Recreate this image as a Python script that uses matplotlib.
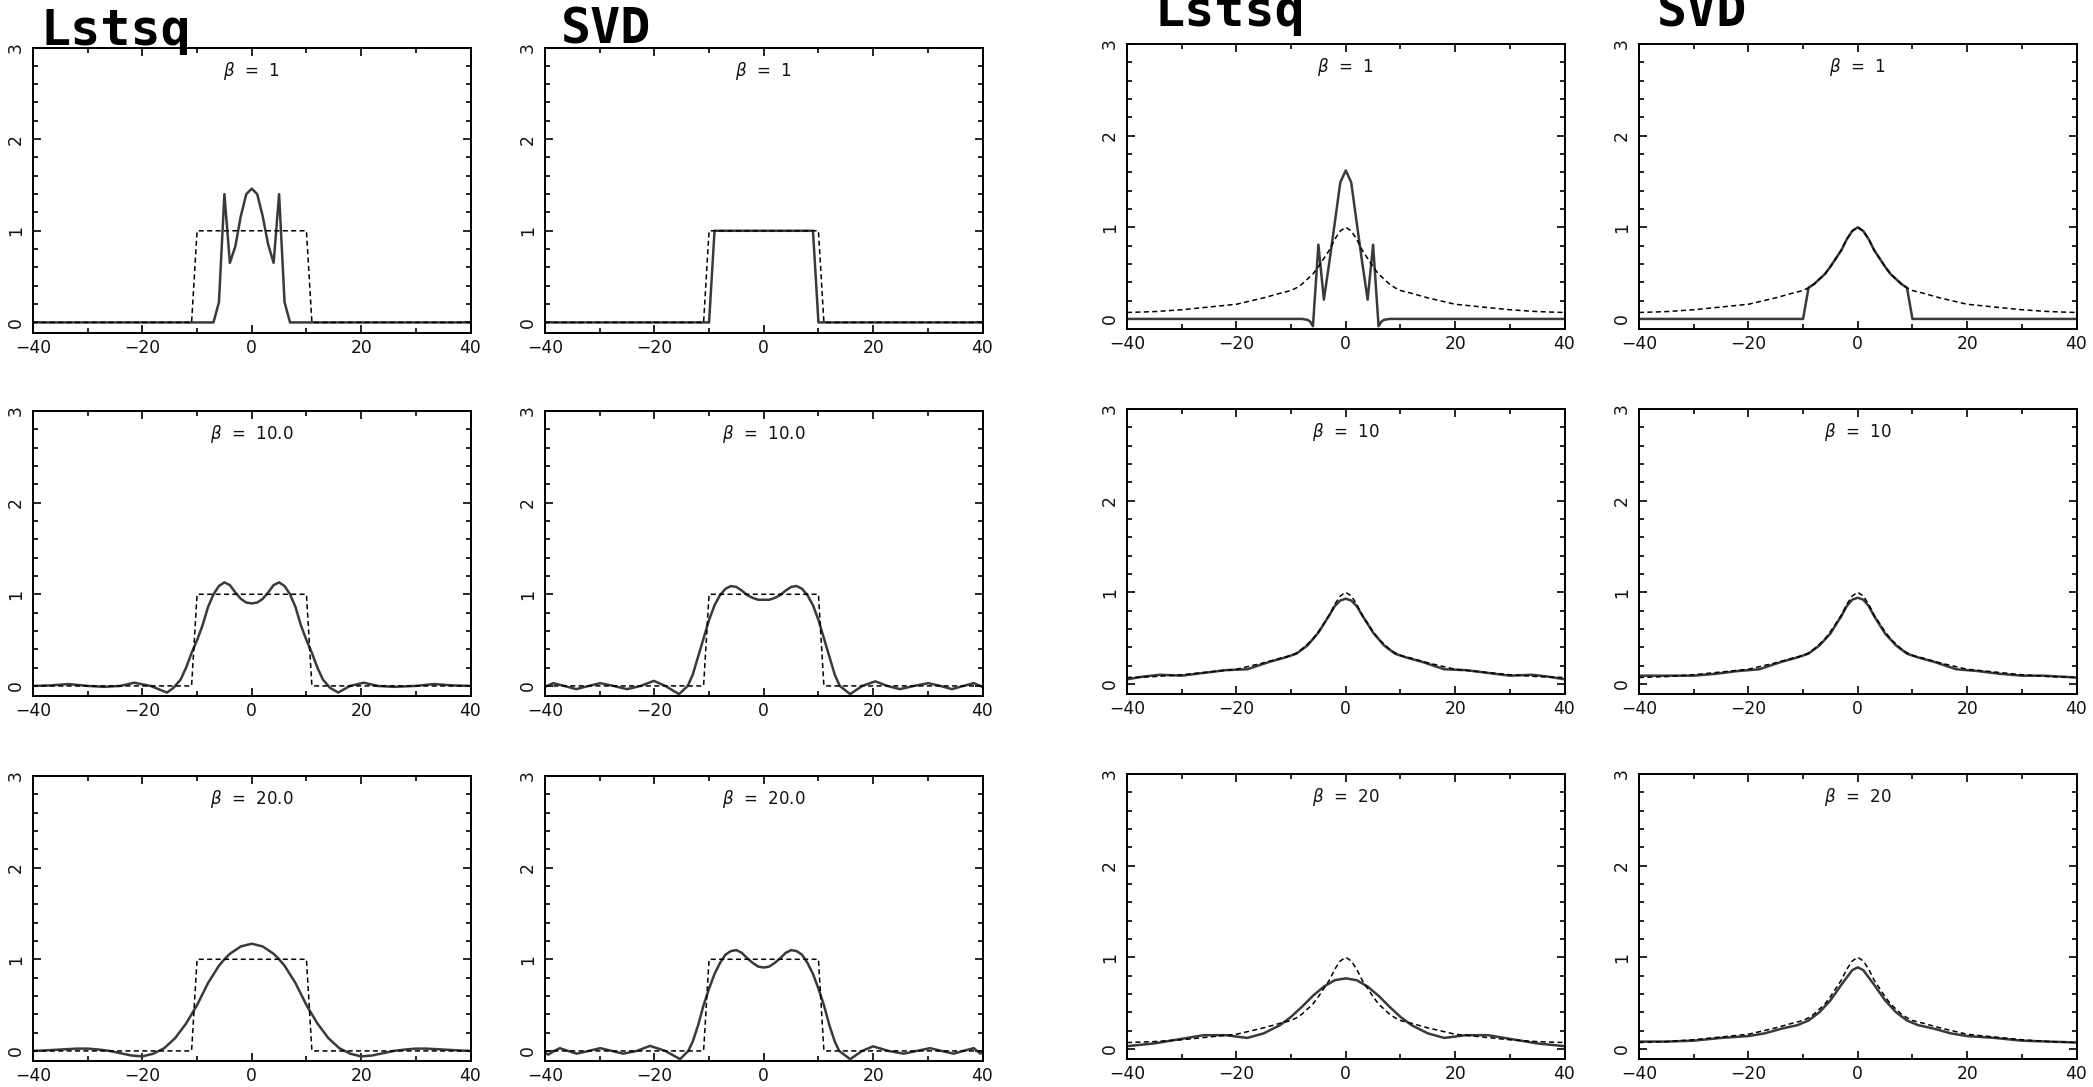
import matplotlib
matplotlib.use("Agg")
import matplotlib.pyplot as plt
from matplotlib.ticker import MultipleLocator

# ---- true spectra ----------------------------------------------------------
box_x = [-40, -11, -10, 10, 11, 40]
box_y = [0, 0, 1, 1, 0, 0]

lor_x = [-40, -35, -30, -25, -20, -15, -12, -10, -9, -8, -6, -5, -4, -3, -2, -1, 0,
         1, 2, 3, 4, 5, 6, 8, 9, 10, 12, 15, 20, 25, 30, 35, 40]
lor_y = [0.07, 0.08, 0.10, 0.13, 0.16, 0.23, 0.28, 0.31, 0.34, 0.38, 0.49, 0.57, 0.66, 0.75, 0.87, 0.96, 1.00,
         0.96, 0.87, 0.75, 0.66, 0.57, 0.49, 0.38, 0.34, 0.31, 0.28, 0.23, 0.16, 0.13, 0.10, 0.08, 0.07]

# ---- box input: reconstructions ---------------------------------------------
lsq_b1_x = [-40, -7, -6, -5, -4, -3, -2, -1, 0, 1, 2, 3, 4, 5, 6, 7, 40]
lsq_b1_y = [0, 0, 0.22, 1.40, 0.65, 0.83, 1.16, 1.40, 1.46, 1.40, 1.16, 0.85, 0.65, 1.40, 0.22, 0, 0]

svd_b1_x = [-40, -10, -9, 9, 10, 40]
svd_b1_y = [0, 0, 1, 1, 0, 0]

lsq_b10_x = [-40, -37, -33.5, -30, -27, -24, -21.5, -18.5, -15.5, -14.3, -13, -12, -11, -10, -9, -8, -7, -6, -5,
             -4, -3, -2, -1, 0, 1, 2, 3, 4, 5, 6, 7, 8, 9, 10, 11, 12, 13, 14.3, 15.8, 18, 20.5, 23, 26, 30,
             33.3, 37, 40]
lsq_b10_y = [0.0, 0.005, 0.02, 0.0, -0.01, 0.0, 0.035, 0.0, -0.073, -0.02, 0.07, 0.20, 0.36, 0.50, 0.66, 0.86,
             1.00, 1.09, 1.13, 1.10, 1.02, 0.95, 0.91, 0.90, 0.91, 0.95, 1.02, 1.10, 1.13, 1.09, 1.00, 0.86,
             0.66, 0.50, 0.36, 0.20, 0.07, -0.02, -0.072, 0.0, 0.035, 0.0, -0.01, 0.0, 0.02, 0.005, 0.0]

lsq_b20_x = [-40, -38, -35, -32, -30, -28, -26, -24, -22, -20, -18, -17, -16, -14, -12, -10, -8, -6, -5, -4,
             -2, 0, 2, 4, 5, 6, 8, 10, 12, 14, 16, 17, 18, 20, 22, 24, 26, 28, 30, 32, 35, 38, 40]
lsq_b20_y = [0.0, 0.005, 0.015, 0.025, 0.025, 0.015, 0.0, -0.025, -0.05, -0.06, -0.03, 0.0, 0.03, 0.14,
             0.30, 0.50, 0.74, 0.93, 1.00, 1.06, 1.14, 1.17, 1.14, 1.06, 1.00, 0.93, 0.74, 0.50, 0.30, 0.14,
             0.03, 0.0, -0.03, -0.06, -0.05, -0.025, 0.0, 0.015, 0.025, 0.025, 0.015, 0.005, 0.0]

svd_b10_x = [-40, -38.5, -36.5, -34.3, -32, -29.9, -27.5, -25, -22.5, -20.1, -18, -15.5, -13.9, -13, -12, -11,
             -10, -9, -8, -7, -6, -5, -4, -3, -2, -1, 0, 1, 2, 3, 4, 5, 6, 7, 8, 9, 10, 11, 12, 13, 13.9, 15.8,
             18, 20.4, 22.6, 24.9, 27.5, 30.1, 32.3, 34.4, 36.5, 38.4, 40]
svd_b10_y = [-0.01, 0.03, 0.0, -0.035, 0.0, 0.03, 0.0, -0.035, 0.0, 0.055, 0.0, -0.09, 0.0, 0.12, 0.32, 0.52,
             0.72, 0.88, 0.99, 1.06, 1.09, 1.08, 1.04, 0.99, 0.96, 0.94, 0.94, 0.94, 0.96, 0.99, 1.04, 1.08,
             1.09, 1.06, 0.99, 0.88, 0.72, 0.52, 0.32, 0.12, 0.0, -0.09, 0.0, 0.05, 0.0, -0.035, 0.0, 0.03,
             0.0, -0.035, 0.0, 0.03, -0.01]

svd_b20_x = [-40, -39.4, -38.3, -37.3, -35.8, -34.2, -32, -29.9, -27.8, -25.7, -23.2, -20.8, -18, -15.3, -13.8,
             -13, -12, -11, -10, -9, -8, -7, -6, -5, -4, -3, -2, -1, 0, 1, 2, 3, 4, 5, 6, 7, 8, 9, 10, 11, 12,
             13, 13.8, 15.8, 18, 20.0, 22.8, 25.6, 28, 30.4, 32.5, 34.7, 36.5, 38.4, 39.6, 40]
svd_b20_y = [-0.02, -0.04, 0.0, 0.03, 0.0, -0.03, 0.0, 0.03, 0.0, -0.03, 0.0, 0.055, 0.0, -0.09, 0.0, 0.10,
             0.28, 0.50, 0.68, 0.84, 0.96, 1.05, 1.09, 1.10, 1.07, 1.01, 0.96, 0.92, 0.91, 0.92, 0.96, 1.01,
             1.07, 1.10, 1.09, 1.05, 0.96, 0.84, 0.68, 0.50, 0.28, 0.10, 0.0, -0.09, 0.0, 0.05, 0.0, -0.03,
             0.0, 0.03, 0.0, -0.03, 0.0, 0.03, -0.03, 0.0]

# ---- peaked input: reconstructions ------------------------------------------
lsq_r1_x = [-40, -8, -7, -6.5, -6, -5, -4, -3, -2, -1, 0, 1, 2, 3, 4, 5, 6, 6.5, 7, 8, 40]
lsq_r1_y = [0, 0, -0.01, -0.03, -0.08, 0.81, 0.21, 0.62, 1.05, 1.49, 1.62, 1.49, 1.05, 0.62, 0.21, 0.81,
            -0.08, -0.03, -0.01, 0, 0]

svd_r1_x = [-40, -10, -9, -8, -6, -5, -4, -3, -2, -1, 0, 1, 2, 3, 4, 5, 6, 8, 9, 10, 40]
svd_r1_y = [0, 0, 0.34, 0.38, 0.49, 0.57, 0.66, 0.75, 0.87, 0.96, 1.00, 0.96, 0.87, 0.75, 0.66, 0.57, 0.49,
            0.38, 0.34, 0, 0]

r10_x = [-40, -37, -34, -30, -26, -22, -18, -14, -11, -9, -7, -5, -3, -2, -1, 0,
         1, 2, 3, 5, 7, 9, 11, 14, 18, 22, 26, 30, 34, 37, 40]
lsq_r10_y = [0.05, 0.08, 0.10, 0.09, 0.12, 0.15, 0.16, 0.24, 0.29, 0.33, 0.42, 0.56, 0.75, 0.85, 0.91, 0.93,
             0.91, 0.85, 0.75, 0.56, 0.42, 0.33, 0.29, 0.24, 0.16, 0.15, 0.12, 0.09, 0.10, 0.08, 0.05]
svd_r10_y = [0.09, 0.09, 0.09, 0.09, 0.11, 0.14, 0.16, 0.24, 0.29, 0.33, 0.42, 0.55, 0.74, 0.85, 0.92, 0.94,
             0.92, 0.85, 0.74, 0.55, 0.42, 0.33, 0.29, 0.24, 0.16, 0.14, 0.11, 0.09, 0.09, 0.08, 0.07]

lsq_r20_x = [-40, -35, -30, -26, -22, -18, -15, -12, -10, -8, -6, -4, -2, 0,
             2, 4, 6, 8, 10, 12, 15, 18, 22, 26, 30, 35, 40]
lsq_r20_y = [0.03, 0.06, 0.11, 0.15, 0.15, 0.12, 0.17, 0.26, 0.35, 0.46, 0.58, 0.68, 0.75, 0.77,
             0.75, 0.68, 0.58, 0.46, 0.35, 0.26, 0.17, 0.12, 0.15, 0.15, 0.11, 0.06, 0.03]

svd_r20_x = [-40, -35, -30, -25, -20, -17, -14, -11, -9, -7, -5, -3, -1, 0,
             1, 3, 5, 7, 9, 11, 14, 17, 20, 25, 30, 35, 40]
svd_r20_y = [0.08, 0.08, 0.09, 0.12, 0.14, 0.17, 0.22, 0.26, 0.31, 0.40, 0.53, 0.70, 0.86, 0.89,
             0.86, 0.70, 0.53, 0.40, 0.31, 0.26, 0.22, 0.17, 0.14, 0.12, 0.09, 0.08, 0.07]

left_labels = ["1", "10.0", "20.0"]
right_labels = ["1", "10", "20"]
titles = ["Lstsq", "SVD", "Lstsq", "SVD"]

W, H = 2093, 1087
col_left = [33, 545, 1127, 1639]
row_top_left = [47.5, 411, 776]
row_top_right = [44, 409, 774]
AX_W, AX_H = 437.5, 285


def panel(fig, left, top, x, y, tx, ty, beta):
    ax = fig.add_axes([left / W, 1 - (top + AX_H) / H, AX_W / W, AX_H / H])
    ax.plot(x, y, color='#3a3a3a', lw=1.8, solid_joinstyle='round')
    ax.plot(tx, ty, color='k', lw=1.1, ls=(0, (3.3, 2.2)))
    ax.set_xlim(-40, 40)
    ax.set_ylim(-0.11, 3)
    ax.xaxis.set_major_locator(MultipleLocator(20))
    ax.xaxis.set_minor_locator(MultipleLocator(10))
    ax.yaxis.set_major_locator(MultipleLocator(1))
    ax.yaxis.set_minor_locator(MultipleLocator(0.2))
    ax.tick_params(which='both', direction='in', top=True, right=True, width=1.2, color='k')
    ax.tick_params(which='major', length=6)
    ax.tick_params(which='minor', length=3.8)
    ax.tick_params(axis='x', labelsize=12.3, pad=4.5, labelcolor='#111111')
    ax.tick_params(axis='y', labelsize=12.3, pad=6, labelrotation=90, labelcolor='#111111')
    for lab in ax.get_yticklabels():
        lab.set_va('center')
    for sp in ax.spines.values():
        sp.set_linewidth(1.4)
    ax.text(0.5, 1 - 28 / AX_H, r'$\beta$  =  ' + beta, transform=ax.transAxes,
            ha='center', va='baseline', fontsize=12, color='#111111')
    return ax


fig = plt.figure(figsize=(W / 100, H / 100), dpi=100)

left_rows = [
    [(lsq_b1_x, lsq_b1_y), (svd_b1_x, svd_b1_y)],
    [(lsq_b10_x, lsq_b10_y), (svd_b10_x, svd_b10_y)],
    [(lsq_b20_x, lsq_b20_y), (svd_b20_x, svd_b20_y)],
]
right_rows = [
    [(lsq_r1_x, lsq_r1_y), (svd_r1_x, svd_r1_y)],
    [(r10_x, lsq_r10_y), (r10_x, svd_r10_y)],
    [(lsq_r20_x, lsq_r20_y), (svd_r20_x, svd_r20_y)],
]

for r in range(3):
    for c in range(2):
        x, y = left_rows[r][c]
        panel(fig, col_left[c], row_top_left[r], x, y, box_x, box_y, left_labels[r])
        x, y = right_rows[r][c]
        panel(fig, col_left[c + 2], row_top_right[r], x, y, lor_x, lor_y, right_labels[r])

# column headings, drawn over the top frames
title_x = [41, 561, 1154, 1657]
title_base = [45, 43.5, 26.5, 26.5]
for t, tx, tb in zip(titles, title_x, title_base):
    fig.text(tx / W, 1 - tb / H, t, ha='left', va='baseline', fontsize=36,
             family='DejaVu Sans Mono', fontweight='bold', zorder=10)

fig.savefig('out.png', dpi=100, facecolor='white')
